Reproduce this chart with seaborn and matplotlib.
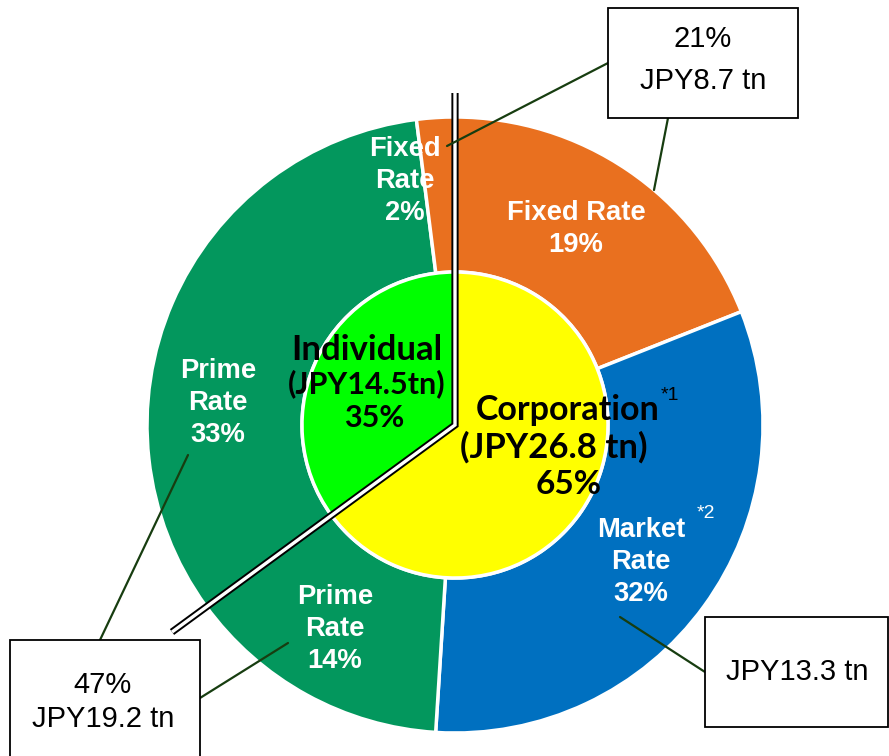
import matplotlib
matplotlib.use("Agg")
import matplotlib.pyplot as plt
import seaborn as sns
from matplotlib.patches import Rectangle

# --- data ---
outer_labels = ["Fixed Rate", "Market Rate", "Prime Rate", "Prime Rate", "Fixed Rate"]
outer_values = [19, 32, 14, 33, 2]
outer_colors = ["#E9701F", "#0070C0", "#03975D", "#03975D", "#E9701F"]

inner_labels = ["Corporation", "Individual"]
inner_values = [65, 35]
inner_colors = ["#FFFF00", "#00FF00"]

sns.set_theme(style="white")
plt.rcParams['font.family'] = ['Liberation Sans', 'DejaVu Sans']
plt.rcParams['text.color'] = 'black'

W, H = 889, 756
fig = plt.figure(figsize=(W / 100, H / 100), dpi=100)
ax = fig.add_axes([0, 0, 1, 1])

cx, cy = 455, H - 425
R_out, R_in = 308, 153

ax.pie(outer_values, colors=sns.color_palette(outer_colors), radius=R_out,
       center=(cx, cy), startangle=90, counterclock=False,
       wedgeprops=dict(width=R_out - R_in, edgecolor="white", linewidth=2.5))
ax.pie(inner_values, colors=sns.color_palette(inner_colors), radius=R_in,
       center=(cx, cy), startangle=90, counterclock=False,
       wedgeprops=dict(edgecolor="white", linewidth=2.5))

ax.set_xlim(0, W)
ax.set_ylim(0, H)
ax.set_aspect("equal")
ax.axis("off")

# double separator line
sep_x = [455, 455, 172]
sep_y = [H - 93, H - 425, H - 632]
ax.plot(sep_x, sep_y, color="black", lw=5.2, solid_joinstyle="miter", solid_capstyle="butt", zorder=5)
ax.plot(sep_x, sep_y, color="white", lw=2.4, solid_joinstyle="miter", solid_capstyle="butt", zorder=6)

# outer labels
wk = dict(color="white", fontweight="bold", fontsize=19.7, ha="center", va="center",
          linespacing=1.32, zorder=7)
ax.text(405, H - 181, "Fixed\nRate\n2%", **wk)
ax.text(576, H - 229, "Fixed Rate\n19%", **wk)
ax.text(641, H - 562, "Market\nRate\n32%", **wk)
ax.text(706, H - 514, "*2", color="white", fontsize=14, ha="center", va="center", zorder=7)
ax.text(335, H - 629, "Prime\nRate\n14%", **wk)
ax.text(218, H - 403, "Prime\nRate\n33%", **wk)

# inner labels
ik = dict(color="black", fontweight="bold", fontstyle="normal", ha="center", va="center",
          zorder=7, family=["Lato", "DejaVu Sans"])
ax.text(367, H - 350, "Individual", fontsize=25, **ik)
ax.text(367, H - 384, "(JPY14.5tn)", fontsize=22, **ik)
ax.text(374, H - 418, "35%", fontsize=22, **ik)
ax.text(568, H - 410, "Corporation", fontsize=24.5, **ik)
ax.text(670, H - 396, "*1", color="black", fontsize=14, ha="center", va="center", zorder=7)
ax.text(554, H - 447, "(JPY26.8 tn)", fontsize=25, **ik)
ax.text(569, H - 484, "65%", fontsize=24, **ik)

# callout boxes
lc = "#173D10"
boxes = [
    (608, 8, 190, 110),
    (705, 617, 183, 110),
    (10, 640, 190, 130),
]
for bx, by, bw, bh in boxes:
    ax.add_patch(Rectangle((bx, H - by - bh), bw, bh, facecolor="white",
                           edgecolor="black", lw=1.3, zorder=8))
bk = dict(color="black", fontsize=21, ha="center", va="center", zorder=9)
ax.text(703, H - 60, "21%\nJPY8.7 tn", linespacing=1.65, **bk)
ax.text(797, H - 672, "JPY13.3 tn", **bk)
ax.text(103, H - 702, "47%\nJPY19.2 tn", linespacing=1.3, **bk)

# connector lines
for (x0, y0), (x1, y1) in [((447, 146), (608, 63)),
                           ((654, 190), (668, 118)),
                           ((188, 455), (100, 640)),
                           ((288, 643), (200, 698)),
                           ((620, 617), (705, 672))]:
    ax.plot([x0, x1], [H - y0, H - y1], color=lc, lw=1.6, zorder=7)

fig.savefig("out.png", dpi=100)
